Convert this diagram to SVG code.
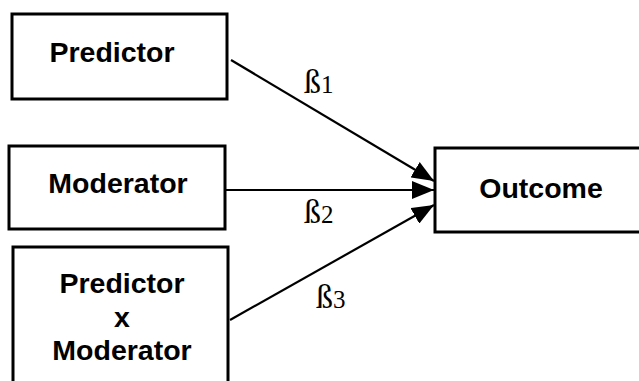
<svg xmlns="http://www.w3.org/2000/svg" width="639" height="381" viewBox="0 0 639 381">
<style>
.box{fill:#fff;stroke:#000;stroke-width:3}
.lbl{font-family:"Liberation Sans",Arial,sans-serif;font-weight:bold;font-size:28.5px;fill:#000;text-anchor:middle}
.beta{font-family:"Liberation Serif","Times New Roman",serif;font-size:34px;fill:#000}
.sub{font-size:25px}
.conn{stroke:#000;stroke-width:2.2;fill:none}
</style>
<defs>
<marker id="ah2" viewBox="0 0 22 18" refX="22" refY="9" markerWidth="22" markerHeight="18" orient="auto" markerUnits="userSpaceOnUse">
<path d="M0,0 L22,9 L0,18 Z" fill="#000"/>
</marker>
</defs>
<rect width="639" height="381" fill="#fff"/>
<g id="connectors">
<line class="conn" x1="231" y1="60" x2="434" y2="181" marker-end="url(#ah2)"/>
<line class="conn" x1="226" y1="190" x2="434" y2="190" marker-end="url(#ah2)"/>
<line class="conn" x1="230" y1="320" x2="434" y2="205" marker-end="url(#ah2)"/>
</g>
<g id="predictor">
<rect class="box" x="12" y="14" width="215" height="85"/>
<text class="lbl" x="112" y="62">Predictor</text>
</g>
<g id="moderator">
<rect class="box" x="9" y="146" width="216" height="83"/>
<text class="lbl" x="118" y="193">Moderator</text>
</g>
<g id="interaction">
<rect class="box" x="13" y="247" width="215" height="140"/>
<text class="lbl" x="122" y="293">Predictor</text>
<text class="lbl" x="122" y="327">x</text>
<text class="lbl" x="122" y="360">Moderator</text>
</g>
<g id="outcome">
<rect class="box" x="435" y="148" width="210" height="84"/>
<text class="lbl" x="541" y="198">Outcome</text>
</g>
<g id="labels">
<text class="beta" x="304" y="93">ß<tspan class="sub">1</tspan></text>
<text class="beta" x="304" y="223">ß<tspan class="sub">2</tspan></text>
<text class="beta" x="316" y="308">ß<tspan class="sub">3</tspan></text>
</g>
</svg>
